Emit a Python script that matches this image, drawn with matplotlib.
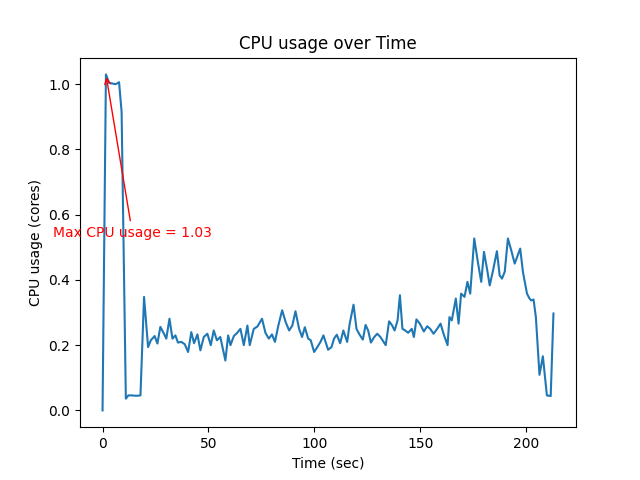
import matplotlib
matplotlib.use("Agg")
import matplotlib.pyplot as plt

# sample times (sec) and cpu usage (cores)
times = [0, 1.6, 3.1, 4.6, 6.2, 7.8, 9.0, 11.0, 12.2, 13.8, 15.3, 16.6, 17.9,
         19.6, 21.5, 22.8, 24.6, 25.9, 27.3, 29.0, 30.1, 31.6, 33.0, 34.4, 35.6,
         37.2, 38.8, 40.4, 41.9, 43.2, 44.8, 46.2, 47.8, 49.5, 51.1, 52.5, 54.0,
         55.6, 58.0, 59.3, 60.4, 62.0, 63.6, 65.1, 66.7, 68.4, 69.5, 71.4, 73.1,
         75.3, 76.9, 78.5, 80.0, 81.4, 83.0, 84.8, 86.5, 88.1, 89.6, 91.1, 92.8,
         94.2, 95.5, 97.1, 98.3, 99.9, 101.4, 102.9, 104.3, 106.5, 108.1, 109.3,
         110.6, 112.2, 113.7, 115.5, 116.7, 118.5, 119.9, 121.3, 122.9, 124.2,
         125.4, 126.7, 128.3, 129.7, 131.2, 132.5, 133.7, 135.3, 136.6, 137.9,
         139.3, 140.4, 141.6, 142.9, 144.3, 146.0, 147.0, 148.2, 149.8, 151.7,
         153.3, 154.7, 156.3, 158.0, 159.6, 161.0, 162.9, 163.8, 164.9, 166.8,
         168.1, 169.3, 170.9, 172.3, 173.6, 175.5, 177.2, 178.8, 180.1, 181.5,
         182.8, 184.4, 186.2, 187.5, 188.6, 189.9, 191.4, 193.0, 194.6, 196.0,
         197.2, 198.5, 200.4, 201.5, 202.4, 203.5, 204.6, 206.3, 207.9, 209.8,
         211.6, 212.9]
cpu = [0.0, 1.03, 1.004, 1.002, 1.0, 1.006, 0.915, 0.036, 0.046, 0.046, 0.045,
       0.045, 0.046, 0.348, 0.194, 0.215, 0.228, 0.205, 0.256, 0.235, 0.22,
       0.281, 0.22, 0.23, 0.208, 0.21, 0.203, 0.179, 0.24, 0.206, 0.233, 0.184,
       0.225, 0.235, 0.2, 0.245, 0.215, 0.225, 0.153, 0.23, 0.2, 0.228, 0.238,
       0.25, 0.2, 0.26, 0.2, 0.25, 0.257, 0.281, 0.238, 0.22, 0.233, 0.21, 0.26,
       0.307, 0.27, 0.245, 0.26, 0.304, 0.25, 0.225, 0.255, 0.22, 0.215, 0.179,
       0.194, 0.21, 0.23, 0.186, 0.194, 0.22, 0.232, 0.206, 0.245, 0.21, 0.266,
       0.324, 0.25, 0.233, 0.217, 0.262, 0.245, 0.208, 0.225, 0.235, 0.225,
       0.212, 0.2, 0.273, 0.262, 0.245, 0.276, 0.353, 0.25, 0.245, 0.238, 0.25,
       0.225, 0.279, 0.266, 0.242, 0.258, 0.25, 0.235, 0.25, 0.266, 0.235, 0.2,
       0.286, 0.276, 0.343, 0.266, 0.358, 0.348, 0.394, 0.358, 0.527, 0.455,
       0.394, 0.486, 0.435, 0.383, 0.43, 0.488, 0.414, 0.404, 0.425, 0.527,
       0.49, 0.45, 0.475, 0.496, 0.424, 0.358, 0.344, 0.337, 0.34, 0.286, 0.109,
       0.166, 0.046, 0.044, 0.297]

maxVal = max(cpu)
maxTime = times[cpu.index(maxVal)]

plt.figure(figsize=(6.4, 4.8), dpi=100)
plt.plot(times, cpu)
plt.annotate("Max CPU usage = {:.2f}".format(maxVal), xy=(maxTime, maxVal),
             xytext=(maxTime + 12.5, maxVal - 0.487), color="red",
             ha="center", va="center",
             arrowprops=dict(arrowstyle="->", color="red"))
plt.title("CPU usage over Time")
plt.xlabel("Time (sec)")
plt.ylabel("CPU usage (cores)")
plt.savefig("out.png")
